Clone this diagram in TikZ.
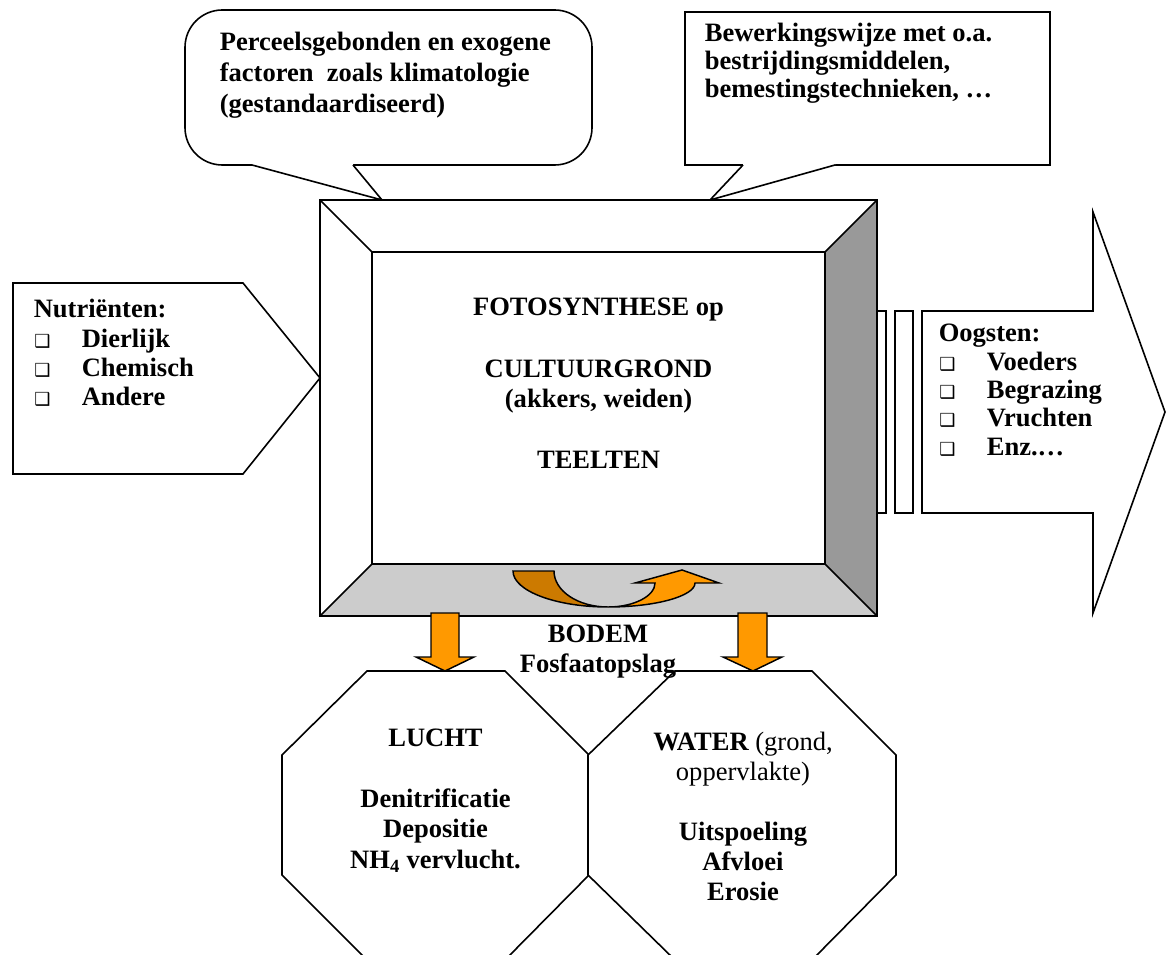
\documentclass[tikz,border=0pt]{standalone}
\usepackage{fontspec}
\setmainfont{Liberation Serif}
\newfontfamily\symfont{DejaVu Sans}

\definecolor{floorgray}{HTML}{CCCCCC}
\definecolor{sidegray}{HTML}{999999}
\definecolor{orangelight}{HTML}{FF9900}
\definecolor{orangedark}{HTML}{CC7A00}

% stacked text lines: first line's baseline is the node's baseline
\newcommand\txtblock[2]{\vtop{\baselineskip=#1\relax #2}}
\newcommand\ctrline[1]{\hbox to 0pt{\hss#1\hss}}
\newcommand\lftline[1]{\hbox{#1}}
\newcommand\chkbox{{\symfont\mdseries\fontsize{13.5}{13.5}\selectfont ❑}}
\newcommand\chkitem[1]{\hbox{\hbox to 36pt{\hskip0.5pt\chkbox\hss}#1}}

\begin{document}
\begin{tikzpicture}[x=0.75pt,y=-0.75pt,line width=1.2pt,line join=miter,
  shapebox/.style={draw=black,fill=white},
  txt/.style={inner sep=0pt,font=\fontsize{19.9}{22.9}\selectfont\bfseries},
  orangebody/.style={draw=black,line width=1.1pt,fill=orangelight}]

\useasboundingbox (0,0) rectangle (1170,955);
\clip (0,0) rectangle (1170,955);

% ---- speech bubble: site-bound and exogenous factors
\draw[shapebox,rounded corners=28pt] (185,10) rectangle (592,165);
\fill[white] (252,165) -- (382,200) -- (353,165) -- (353,162) -- (252,162) -- cycle;
\draw (252,165) -- (382,200) -- (353,165);

% ---- callout: cultivation practice
\draw[shapebox] (685,12) rectangle (1050,165);
\fill[white] (743,165) -- (710,200) -- (835,165) -- (835,162) -- (743,162) -- cycle;
\draw (743,165) -- (710,200) -- (835,165);

% ---- bevelled frame
\fill[white] (320,200) rectangle (877,616);
\fill[floorgray] (320,616) -- (877,616) -- (825,564) -- (372,564) -- cycle;
\fill[sidegray] (877,200) -- (877,616) -- (825,564) -- (825,252) -- cycle;
\draw (372,252) rectangle (825,564);
\draw (320,200) -- (372,252) (877,200) -- (825,252)
      (320,616) -- (372,564) (877,616) -- (825,564);
\draw (320,200) rectangle (877,616);

% ---- input arrow (nutrients)
\draw[shapebox] (13,283) -- (243,283) -- (320,378) -- (243,474) -- (13,474) -- cycle;

% ---- striped output arrow (harvests)
\draw[shapebox] (877,311) rectangle (886,513);
\draw[shapebox] (895,311) rectangle (913,513);
\draw[shapebox] (922,311) -- (1093,311) -- (1093,212) -- (1165,412)
      -- (1093,613) -- (1093,513) -- (922,513) -- cycle;

% ---- losses to air and water
\draw[shapebox] (367,671) -- (505,671) -- (589,755) -- (589,875) -- (505,960)
      -- (367,960) -- (282,875) -- (282,755) -- cycle;
\draw[shapebox] (675,671) -- (812,671) -- (896,755) -- (896,875) -- (812,960)
      -- (675,960) -- (588,875) -- (588,755) -- cycle;

% ---- downward block arrows
\draw[orangebody] (431,613) -- (459,613) -- (459,657) -- (474,657) -- (445,671)
      -- (416,657) -- (431,657) -- cycle;
\draw[orangebody] (738,613) -- (767,613) -- (767,657) -- (782,657) -- (753,671)
      -- (723,657) -- (738,657) -- cycle;

% ---- U-turn arrow in the soil layer
\draw[draw=black,line width=1.1pt,fill=orangedark] (513,571) -- (554,571)
      .. controls (554,591) and (578,607) .. (608,607)
      .. controls (556,607) and (513,591) .. (513,571) -- cycle;
\draw[orangebody] (608,607) .. controls (634,607) and (655,596) .. (655,583)
      -- (635,583) -- (682,570) -- (719,583) -- (695,583)
      .. controls (695,596) and (656,607) .. (608,607) -- cycle;

% ---- texts
\node[txt,anchor=base west] (factors) at (219,51)
  {\txtblock{22.9pt}{\lftline{Perceelsgebonden en exogene}\lftline{factoren~ zoals klimatologie}\lftline{(gestandaardiseerd)}}};
\node[txt,anchor=base west] (practice) at (704,42)
  {\txtblock{21pt}{\lftline{Bewerkingswijze met o.a.}\lftline{bestrijdingsmiddelen,}\lftline{bemestingstechnieken, …}}};
\node[txt,anchor=base] (crops) at (598.5,316)
  {\txtblock{22.9pt}{\ctrline{FOTOSYNTHESE op}\ctrline{}\ctrline{CULTUURGROND}\ctrline{(akkers, weiden)}\ctrline{}\ctrline{TEELTEN}}};
\node[txt,anchor=base west] (nutrients) at (33,318)
  {\txtblock{22pt}{\lftline{Nutriënten:}\chkitem{Dierlijk}\chkitem{Chemisch}\chkitem{Andere}}};
\node[txt,anchor=base west] (harvests) at (938,342)
  {\txtblock{21.2pt}{\lftline{Oogsten:}\chkitem{Voeders}\chkitem{Begrazing}\chkitem{Vruchten}\chkitem{Enz.…}}};
\node[txt,anchor=base] (soil) at (598,642)
  {\txtblock{22.5pt}{\ctrline{BODEM}\ctrline{Fosfaatopslag}}};
\node[txt,anchor=base] (air) at (435.5,746)
  {\txtblock{22.9pt}{\ctrline{LUCHT}\ctrline{}\ctrline{Denitrificatie}\ctrline{Depositie}\ctrline{NH\textsubscript{4} vervlucht.}}};
\node[txt,anchor=base] (water) at (743,750)
  {\txtblock{22.6pt}{\ctrline{WATER {\mdseries (grond,}}\ctrline{\mdseries oppervlakte)}\ctrline{}\ctrline{Uitspoeling}\ctrline{Afvloei}\ctrline{Erosie}}};

\end{tikzpicture}
\end{document}
